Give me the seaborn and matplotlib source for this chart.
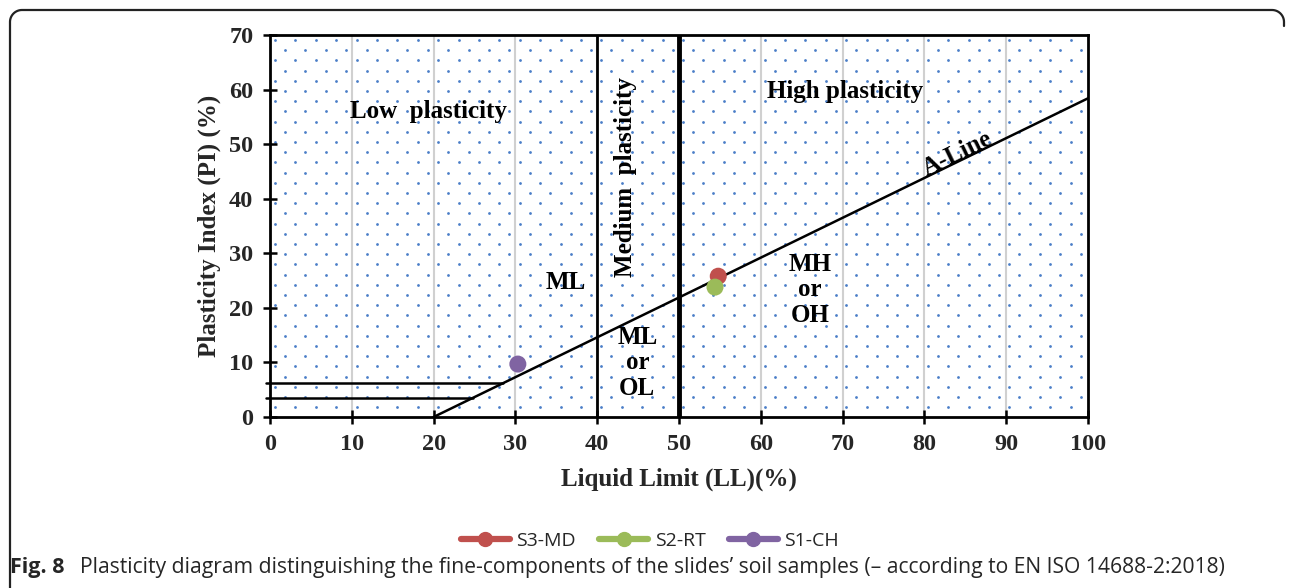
import matplotlib
matplotlib.use("Agg")
import matplotlib.pyplot as plt
import seaborn as sns
import numpy as np
import pandas as pd
from matplotlib.lines import Line2D

# data
samples = ["S3-MD", "S2-RT", "S1-CH"]
liquid_limit = [54.8, 54.4, 30.3]
plasticity_index = [25.8, 23.8, 9.7]
colors = ["#c0504d", "#9bbb59", "#8064a2"]

a_line_ll = [20, 100]
a_line_slope = 0.73
limit_lines_pi = [6.2, 3.5]
boundaries = [40, 50]

W, H = 1292, 588
sns.set_theme(style="white")
serif = ["Liberation Serif", "DejaVu Serif"]
sans = ["Open Sans", "DejaVu Sans"]
plt.rcParams["font.family"] = serif

fig = plt.figure(figsize=(W / 100, H / 100), dpi=100)
L, R, T, B = 270, 1088, 35, 417
ax = fig.add_axes([L / W, 1 - B / H, (R - L) / W, (B - T) / H])
ax.set_xlim(0, 100)
ax.set_ylim(0, 70)

# dotted background pattern
aw, ah = R - L, B - T
pts = []
for i, yy in enumerate(np.arange(5, ah, 10.2)):
    off = 5 if i % 2 == 0 else 15
    for xx in np.arange(off, aw, 20.4):
        pts.append((xx / aw, 1 - yy / ah))
pts = np.array(pts)
ax.scatter(pts[:, 0], pts[:, 1], s=4, color="#4a7ec8", marker="o", linewidths=0,
           transform=ax.transAxes, zorder=0)

# vertical gridlines
for gx in range(10, 100, 10):
    ax.axvline(gx, color="#d0d0d0", lw=1.5, zorder=0.5)

# boundaries
ax.axvline(boundaries[0], color="black", lw=2, zorder=2)
ax.axvline(boundaries[1], color="black", lw=3.5, zorder=2)

# A-line
a_df = pd.DataFrame({"LL": a_line_ll, "PI": [a_line_slope * (v - 20) for v in a_line_ll]})
sns.lineplot(data=a_df, x="LL", y="PI", ax=ax, color="black", lw=1.8, zorder=3)

for pi in limit_lines_pi:
    x_end = 20 + pi / a_line_slope
    ax.plot([-0.5, x_end], [pi, pi], color="black", lw=1.8, clip_on=False, zorder=3)

# samples
pts_df = pd.DataFrame({"LL": liquid_limit, "PI": plasticity_index, "Sample": samples})
sns.scatterplot(data=pts_df, x="LL", y="PI", hue="Sample", palette=colors, s=150,
                edgecolor="none", ax=ax, legend=False, zorder=5)

# zone labels
tkw = dict(fontweight="bold", fontsize=18, color="black", family=serif, zorder=6)
ax.text(19.4, 56, "Low  plasticity", ha="center", va="center", **tkw)
ax.text(70.3, 59.7, "High plasticity", ha="center", va="center", **tkw)
ax.text(43.5, 44.0, "Medium  plasticity", ha="center", va="center", rotation=90, **tkw)
ax.text(36.2, 24.6, "ML", ha="center", va="center", **tkw)
ax.text(44.9, 9.9, "ML\nor\nOL", ha="center", va="center", linespacing=1.15, **tkw)
ax.text(66.0, 23.3, "MH\nor\nOH", ha="center", va="center", linespacing=1.15, **tkw)
ax.text(84.0, 48.3, "A-Line", ha="center", va="center", rotation=26, rotation_mode="anchor", **tkw)

# axes styling
for sp in ax.spines.values():
    sp.set_color("black")
    sp.set_linewidth(2)
ax.set_xticks(range(0, 101, 10))
ax.set_yticks(range(0, 71, 10))
ax.tick_params(direction="inout", length=10, width=1.8, color="black", labelsize=17.5,
               bottom=True, left=True, pad=7)
for lab in ax.get_xticklabels() + ax.get_yticklabels():
    lab.set_fontweight("bold")
    lab.set_family(serif)
ax.set_xlabel("Liquid Limit (LL)(%)", fontsize=18, fontweight="bold", labelpad=9)
ax.set_ylabel("Plasticity Index (PI) (%)", fontsize=18, fontweight="bold", labelpad=6)

# legend
handles = [Line2D([0], [0], color=c, lw=4.5, marker="o", markersize=10) for c in colors]
fig.legend(handles, samples, loc="center", bbox_to_anchor=(650 / W, 1 - 541 / H), ncol=3,
           frameon=False, handlelength=2.5, columnspacing=1.2, handletextpad=0.35,
           prop={"family": sans, "size": 14})

# caption
cap_y = 1 - 567 / H
fig.text(10 / W, cap_y, "Fig. 8", fontsize=15.5, fontweight="bold", va="center", family=sans)
fig.text(80 / W, cap_y,
         "Plasticity diagram distinguishing the fine-components of the slides\u2019 soil samples "
         "(\u2013 according to EN ISO 14688-2:2018)",
         fontsize=15.2, va="center", family=sans)

# outer rounded frame (top + left)
r = 12
x0, y0, x1 = 10, 10, 1284
th = np.linspace(np.pi, np.pi / 2, 20)
arc1x = x0 + r + r * np.cos(th)
arc1y = y0 + r - r * np.sin(th)
th2 = np.linspace(np.pi / 2, 0, 20)
arc2x = x1 - r + r * np.cos(th2)
arc2y = y0 + r - r * np.sin(th2)
fx = np.concatenate([[x0], arc1x, arc2x, [x1]])
fy = np.concatenate([[H], arc1y, arc2y, [y0 + r + 4]])
fig.add_artist(Line2D(fx / W, 1 - fy / H, color="#222222", lw=1.6, transform=fig.transFigure))

fig.savefig("out.png", dpi=100)
